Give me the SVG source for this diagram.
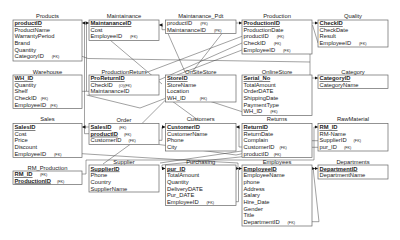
<svg xmlns="http://www.w3.org/2000/svg" width="400" height="240" viewBox="0 0 400 240">
<style>
text{font-family:"Liberation Sans",Arial,sans-serif;font-size:5.8px;fill:#222}
.ttl{text-anchor:middle}
.pk{font-weight:bold;text-decoration:underline}
.fk{font-size:3.8px;font-weight:normal}
rect{fill:#fff;stroke:#666;stroke-width:0.7}
#connectors path{fill:none;stroke:#444;stroke-width:0.5}
</style>
<defs>
<marker id="arr" viewBox="0 0 6 6" refX="6" refY="3" markerWidth="3.5" markerHeight="3.5" orient="auto" markerUnits="userSpaceOnUse"><path d="M0,0 L6,3 L0,6 z" fill="#111"/></marker>
<marker id="arr2" viewBox="0 0 12 6" refX="12" refY="3" markerWidth="6" markerHeight="3.5" orient="auto" markerUnits="userSpaceOnUse"><path d="M0,0 L6,3 L0,6 z M6,0 L12,3 L6,6 z" fill="#111"/></marker>
</defs>
<rect x="0" y="0" width="400" height="240" style="fill:#fff;stroke:none"/>

<g id="connectors">
<path d="M89,133.7 L84.5,133.7 L84.5,23 L82,23" marker-end="url(#arr)"/>
<path d="M89,91.3 L86.5,91.3 L86.5,23 L89,23" marker-end="url(#arr)"/>
<path d="M82,91.3 L86.5,91.3"/>
<path d="M165.5,29.7 L162,29.7 L162,25 L159,25" marker-end="url(#arr)"/>
<path d="M236,23 L242,23" marker-end="url(#arr)"/>
<path d="M312,23 L318,23" marker-end="url(#arr)"/>
<path d="M312.5,25 L318,43"/>
<path d="M82,56.3 L88,58.5 L310,62 L310,78 L318,78" marker-end="url(#arr)"/>
<path d="M310,54 L310,62"/>
<path d="M110,40 L162,84"/>
<path d="M168,33.5 L185,72"/>
<path d="M222,33.5 L192,72"/>
<path d="M242,36.3 L145,73"/>
<path d="M242,43 L159,80"/>
<path d="M242,50 L177,75"/>
<path d="M86.5,95 L140,108 L165.5,98.3"/>
<path d="M242,111.7 L200,98"/>
<path d="M172,101 L198,120"/>
<path d="M142,123.5 L165.5,100"/>
<path d="M89,127 L82,127" marker-end="url(#arr)"/>
<path d="M159,140.3 L162,140.3 L162,127 L165.5,127" marker-end="url(#arr)"/>
<path d="M242,147 L239,147 L239,127 L236,127" marker-end="url(#arr)"/>
<path d="M82,174 L86,174 L86,160 L314,160 L314,127 L318,127" marker-end="url(#arr)"/>
<path d="M318,140.7 L312,140.7 L160,163"/>
<path d="M318,147.3 L312,147.3 L240,157 L162,165 L162,168.5 L165.5,168.5" marker-end="url(#arr)"/>
<path d="M103,164 L130,144.5"/>
<path d="M242,153.7 L236,155 L159,144.5"/>
<path d="M82,153.7 L150,158 L238,163 L238,168.5"/>
<path d="M236,201.7 L238.5,201.7 L238.5,168.5 L242,168.5" marker-end="url(#arr2)"/>
<path d="M312,221.7 L319,221.7 L313.5,172 L313.5,168.5 L318,168.5" marker-end="url(#arr2)"/>
</g>

<g id="Products">
<text class="ttl" x="47.5" y="18">Products</text>
<rect x="13" y="20" width="69" height="41"/>
<text x="14.5" y="25" class="pk">productID</text>
<text x="14.5" y="31.7">ProductName</text>
<text x="14.5" y="38.3">WarrantyPeriod</text>
<text x="14.5" y="45">Brand</text>
<text x="14.5" y="51.7">Quantity</text>
<text x="14.5" y="58.3">CategoryID<tspan class="fk" dx="8">(FK)</tspan></text>
</g>

<g id="Maintainance">
<text class="ttl" x="124" y="18">Maintainance</text>
<rect x="89" y="20" width="70" height="20.5"/>
<text x="90.5" y="25" class="pk">MaintananceID</text>
<text x="90.5" y="31.7">Cost</text>
<text x="90.5" y="38.3">EmployeeID<tspan class="fk" dx="8">(FK)</tspan></text>
</g>

<g id="Maintanance_Pdt">
<text class="ttl" x="200.7" y="18">Maintanance_Pdt</text>
<rect x="165.5" y="20" width="70.5" height="13.5"/>
<text x="167" y="25">productID<tspan class="fk" dx="8">(PK)</tspan></text>
<text x="167" y="31.7">MaintananceID<tspan class="fk" dx="8">(PK)</tspan></text>
</g>

<g id="Production">
<text class="ttl" x="277" y="18">Production</text>
<rect x="242" y="20" width="70" height="34"/>
<text x="243.5" y="25" class="pk">ProductionID</text>
<text x="243.5" y="31.7">ProductionDate</text>
<text x="243.5" y="38.3">productID<tspan class="fk" dx="8">(FK)</tspan></text>
<text x="243.5" y="45">CheckID<tspan class="fk" dx="8">(FK)</tspan></text>
<text x="243.5" y="51.7">EmployeeID<tspan class="fk" dx="8">(FK)</tspan></text>
</g>

<g id="Quality">
<text class="ttl" x="353" y="18">Quality</text>
<rect x="318" y="20" width="70" height="27"/>
<text x="319.5" y="25" class="pk">CheckID</text>
<text x="319.5" y="31.7">CheckDate</text>
<text x="319.5" y="38.3">Result</text>
<text x="319.5" y="45">EmployeeID<tspan class="fk" dx="8">(FK)</tspan></text>
</g>

<g id="Warehouse">
<text class="ttl" x="47.5" y="74">Warehouse</text>
<rect x="13" y="75" width="69" height="33.5"/>
<text x="14.5" y="80" class="pk">WH_ID</text>
<text x="14.5" y="86.7">Quantity</text>
<text x="14.5" y="93.3">Shelf</text>
<text x="14.5" y="100">CheckID<tspan class="fk" dx="4">(FK)</tspan></text>
<text x="14.5" y="106.7">EmployeeID<tspan class="fk" dx="4">(FK)</tspan></text>
</g>

<g id="ProductionReturn">
<text class="ttl" x="124" y="74">ProductionReturn</text>
<rect x="89" y="75" width="70" height="20"/>
<text x="90.5" y="80" class="pk">ProReturnID</text>
<text x="90.5" y="86.7">CheckID<tspan class="fk" dx="6">(O)(FK)</tspan></text>
<text x="90.5" y="93.3">MaintananceID</text>
</g>

<g id="OnSiteStore">
<text class="ttl" x="200.7" y="74">OnSiteStore</text>
<rect x="165.5" y="75" width="70.5" height="27"/>
<text x="167" y="80" class="pk">StoreID</text>
<text x="167" y="86.7">StoreName</text>
<text x="167" y="93.3">Location</text>
<text x="167" y="100">WH_ID<tspan class="fk" dx="14">(FK)</tspan></text>
</g>

<g id="OnlineStore">
<text class="ttl" x="277" y="74">OnlineStore</text>
<rect x="242" y="75" width="70" height="40.5"/>
<text x="243.5" y="80" class="pk">Serial_No</text>
<text x="243.5" y="86.7">TotalAmount</text>
<text x="243.5" y="93.3">OrderDATE</text>
<text x="243.5" y="100">ShippingDate</text>
<text x="243.5" y="106.7">PaymentType</text>
<text x="243.5" y="113.3">WH_ID<tspan class="fk" dx="8">(FK)</tspan></text>
</g>

<g id="Category">
<text class="ttl" x="353" y="74">Category</text>
<rect x="318" y="75" width="70" height="13.5"/>
<text x="319.5" y="80" class="pk">CategoryID</text>
<text x="319.5" y="86.7">CategoryName</text>
</g>

<g id="Sales">
<text class="ttl" x="47.5" y="121">Sales</text>
<rect x="13" y="123.5" width="69" height="34"/>
<text x="14.5" y="129" class="pk">SalesID</text>
<text x="14.5" y="135.7">Cost</text>
<text x="14.5" y="142.3">Price</text>
<text x="14.5" y="149">Discount</text>
<text x="14.5" y="155.7">EmployeeID<tspan class="fk" dx="8">(FK)</tspan></text>
</g>

<g id="Order">
<text class="ttl" x="124" y="122">Order</text>
<rect x="89" y="123.5" width="70" height="21"/>
<text x="90.5" y="129" class="pk">SalesID</text>
<text x="119" y="129" class="fk">(FK)</text>
<text x="90.5" y="135.7" class="pk">productID</text>
<text x="124" y="135.7" class="fk">(FK)</text>
<text x="90.5" y="142.3">CustomerID<tspan class="fk" dx="7">(FK)</tspan></text>
</g>

<g id="Customers">
<text class="ttl" x="200.7" y="121">Customers</text>
<rect x="165.5" y="123.5" width="70.5" height="27.5"/>
<text x="167" y="129" class="pk">CustomerID</text>
<text x="167" y="135.7">CustomerName</text>
<text x="167" y="142.3">Phone</text>
<text x="167" y="149">City</text>
</g>

<g id="Returns">
<text class="ttl" x="277" y="121">Returns</text>
<rect x="242" y="123.5" width="70" height="34"/>
<text x="243.5" y="129" class="pk">ReturnID</text>
<text x="243.5" y="135.7">ReturnDate</text>
<text x="243.5" y="142.3">Complain</text>
<text x="243.5" y="149">CustomerID<tspan class="fk" dx="5">(FK)</tspan></text>
<text x="243.5" y="155.7">productID<tspan class="fk" dx="5">(FK)</tspan></text>
</g>

<g id="RawMaterial">
<text class="ttl" x="353" y="121">RawMaterial</text>
<rect x="318" y="123.5" width="70" height="27.5"/>
<text x="319.5" y="129" class="pk">RM_ID</text>
<text x="319.5" y="135.7">RM-Name</text>
<text x="319.5" y="142.3">SupplierID<tspan class="fk" dx="7">(FK)</tspan></text>
<text x="319.5" y="149">pur_ID<tspan class="fk" dx="7">(FK)</tspan></text>
</g>

<g id="RM_Production">
<text class="ttl" x="47.5" y="170">RM_Production</text>
<rect x="13" y="171" width="69" height="13.5"/>
<text x="14.5" y="176" class="pk">RM_ID</text>
<text x="40" y="176" class="fk">(FK)</text>
<text x="14.5" y="182.5" class="pk">ProductionID</text>
<text x="57" y="182.5" class="fk">(FK)</text>
</g>

<g id="Supplier">
<text class="ttl" x="124" y="164">Supplier</text>
<rect x="89" y="165" width="70" height="27"/>
<text x="90.5" y="170.5" class="pk">SupplierID</text>
<text x="90.5" y="177.2">Phone</text>
<text x="90.5" y="183.8">Country</text>
<text x="90.5" y="190.5">SupplierName</text>
</g>

<g id="Purchasing">
<text class="ttl" x="200.7" y="164">Purchasing</text>
<rect x="165.5" y="165" width="70.5" height="40.5"/>
<text x="167" y="170.5" class="pk">pur_ID</text>
<text x="167" y="177.2">TotalAmount</text>
<text x="167" y="183.8">Quantity</text>
<text x="167" y="190.5">DeliveryDATE</text>
<text x="167" y="197.2">Pur_DATE</text>
<text x="167" y="203.8">EmployeeID<tspan class="fk" dx="8">(FK)</tspan></text>
</g>

<g id="Employees">
<text class="ttl" x="277" y="164">Employees</text>
<rect x="242" y="165" width="70" height="61"/>
<text x="243.5" y="170.5" class="pk">EmployeeID</text>
<text x="243.5" y="177.2">EmployeeName</text>
<text x="243.5" y="183.8">phone</text>
<text x="243.5" y="190.5">Address</text>
<text x="243.5" y="197.2">Salary</text>
<text x="243.5" y="203.8">Hire_Date</text>
<text x="243.5" y="210.5">Gender</text>
<text x="243.5" y="217.2">Title</text>
<text x="243.5" y="223.8">DepartmentID<tspan class="fk" dx="8">(FK)</tspan></text>
</g>

<g id="Departments">
<text class="ttl" x="353" y="164">Departments</text>
<rect x="318" y="165" width="70" height="14"/>
<text x="319.5" y="170.5" class="pk">DepartmentID</text>
<text x="319.5" y="177.2">DepartmentName</text>
</g>
</svg>
